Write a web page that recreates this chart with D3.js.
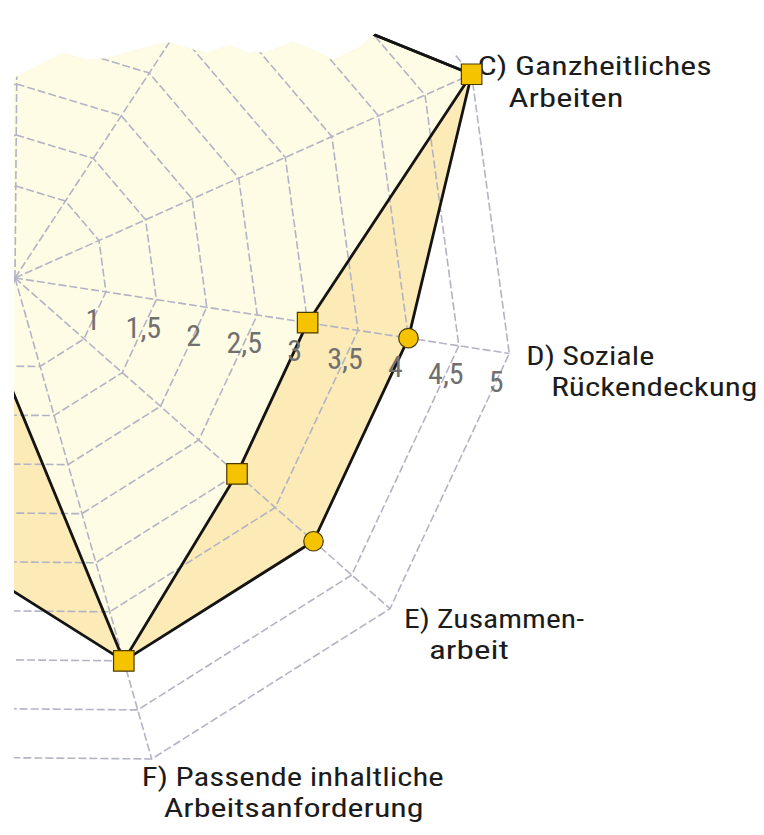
<!DOCTYPE html>
<html><head><meta charset="utf-8">
<script src="https://cdn.jsdelivr.net/npm/d3@7"></script>
<style>html,body{margin:0;padding:0;background:#fff;} svg{display:block}</style>
</head><body>
<svg id="chart" width="764" height="835"></svg>
<script>
// ---- data ----
const categories = ["A)", "B)", "C) Ganzheitliches Arbeiten", "D) Soziale Rückendeckung", "E) Zusammenarbeit",
  "F) Passende inhaltliche Arbeitsanforderung", "G)", "H)", "I)", "J)", "K)"];
const seriesSquares = [4, 3.7, 5, 3, 3, 4, 0.8, 3, 3, 3, 3];
const seriesCircles = [4, 3.7, 5, 4, 4, 4, 2.8, 3, 3, 3, 3];
const tickValues = [1, 1.5, 2, 2.5, 3, 3.5, 4, 4.5, 5];
const tickLabels = ["1", "1,5", "2", "2,5", "3", "3,5", "4", "4,5", "5"];
const labelLines = [[], [], ["C) Ganzheitliches", "Arbeiten"], ["D) Soziale", "Rückendeckung"],
  ["E) Zusammen-", "arbeit"], ["F) Passende inhaltliche", "Arbeitsanforderung"], [], [], [], [], []];

// ---- layout ----
const cx = 15, cy = 278;
const n = categories.length;
const rot = 0.5 * Math.PI / 180;
const ang = d3.scaleLinear().domain([0, n]).range([rot, 2 * Math.PI + rot]);
const r = d3.scaleLinear().domain([1, 5]).range([92, 500]);
const idx = d3.range(n);

const svg = d3.select("#chart");
svg.append("rect").attr("width", 764).attr("height", 835).attr("fill", "#fff");

const clipPts = [[14,835],[14,78],[63,53],[87,60],[107,58],[167,42],[187,48],[207,53],[230,45],[247,53],
  [267,52],[293,42],[320,53],[333,60],[360,47],[377,32],[466,57],[764,57],[764,835]];
svg.append("clipPath").attr("id", "cp").append("polygon").attr("points", clipPts.map(p => p.join(",")).join(" "));

const font = "'Liberation Sans Narrow','Roboto Condensed','DejaVu Sans Condensed','Liberation Sans',sans-serif";

// axis labels (drawn first: the C marker overlaps its label)
const labelLayout = {
  2: [{dx: 6, dy: 1, w: 234, a: "start"}, {dx: 37, dy: 33, w: 115, a: "start"}],
  3: [{dx: 17, dy: 12, w: 128, a: "start"}, {dx: 42, dy: 43, w: 206, a: "start"}],
  4: [{dx: 14, dy: 19, w: 180, a: "start"}, {dx: 39, dy: 50, w: 80, a: "start"}],
  5: [{dx: 141, dy: 27, w: 302, a: "middle"}, {dx: 142, dy: 58, w: 260, a: "middle"}]
};
const labG = svg.append("g");
idx.forEach(i => {
  if (!labelLines[i].length) return;
  const p = d3.pointRadial(ang(i), r(5));
  const t = labG.append("text")
    .attr("font-family", font).attr("font-size", 26).attr("fill", "#1c1c1c");
  labelLines[i].forEach((s, j) => {
    const L = labelLayout[i][j];
    t.append("tspan")
      .attr("x", cx + p[0] + L.dx).attr("y", cy + p[1] + L.dy)
      .attr("text-anchor", L.a)
      .attr("textLength", L.w).attr("lengthAdjust", "spacingAndGlyphs")
      .text(s);
  });
});

const outer = svg.append("g").attr("clip-path", "url(#cp)");
const g = outer.append("g").attr("transform", `translate(${cx},${cy})`);

const radial = d3.lineRadial().angle((d, i) => ang(i)).radius(d => r(d)).curve(d3.curveLinearClosed);

// fills
g.append("path").datum(seriesCircles).attr("d", radial).attr("fill", "#fcebb6");
g.append("path").datum(seriesSquares).attr("d", radial).attr("fill", "#fefce4");

// grid rings
const gridColor = "#b3b3c6";
g.selectAll("path.ring").data(tickValues).join("path").attr("class", "ring")
  .attr("d", v => radial(idx.map(() => v)))
  .attr("fill", "none").attr("stroke", gridColor).attr("stroke-width", 1.6).attr("stroke-dasharray", "8,3");
// spokes
g.selectAll("line.spoke").data(idx).join("line").attr("class", "spoke")
  .attr("x1", 0).attr("y1", 0)
  .attr("x2", i => d3.pointRadial(ang(i), r(5))[0])
  .attr("y2", i => d3.pointRadial(ang(i), r(5))[1])
  .attr("stroke", gridColor).attr("stroke-width", 1.6).attr("stroke-dasharray", "8,3");

// outlines
[seriesCircles, seriesSquares].forEach(s => {
  g.append("path").datum(s).attr("d", radial).attr("fill", "none")
    .attr("stroke", "#141414").attr("stroke-width", 2.8).attr("stroke-linejoin", "round");
});

// markers
const mk = (s, type, size) => {
  g.selectAll(null).data(idx).join("path")
    .attr("transform", i => { const p = d3.pointRadial(ang(i), r(s[i])); return `translate(${p[0]},${p[1]})`; })
    .attr("d", d3.symbol().type(type).size(size))
    .attr("fill", "#f6c300").attr("stroke", "#4a3a00").attr("stroke-width", 1.2);
};
mk(seriesCircles, d3.symbolCircle, 300);
mk(seriesSquares, d3.symbolSquare, 420);

// tick labels along D axis
const dAxis = 3;
svg.append("g").selectAll("text").data(tickValues).join("text")
  .attr("x", v => cx + d3.pointRadial(ang(dAxis), r(v))[0] - 13)
  .attr("y", v => cy + d3.pointRadial(ang(dAxis), r(v))[1] + 28)
  .attr("text-anchor", "middle").attr("dominant-baseline", "central")
  .attr("font-family", font).attr("font-size", 30).attr("fill", "#707070")
  .text((v, i) => tickLabels[i]);
</script>
</body></html>
